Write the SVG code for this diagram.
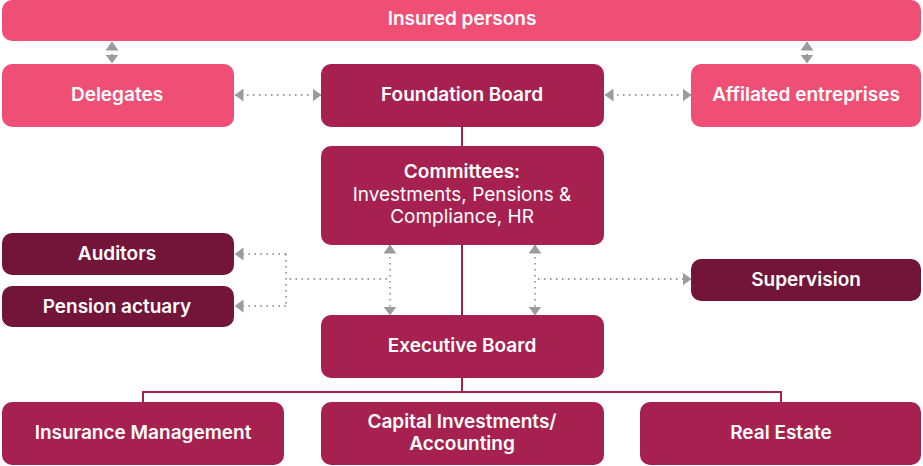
<svg xmlns="http://www.w3.org/2000/svg" width="923" height="466" viewBox="0 0 923 466">
  <style>
    .pink { fill: #F04F75; }
    .plum { fill: #A62150; }
    .wine { fill: #721538; }
    .lbl { font-family: Inter, "Noto Sans", "Liberation Sans", sans-serif; font-size: 19px; font-weight: 600; fill: #ffffff; text-anchor: middle; }
    .reg { font-weight: 400; }
    .tree { fill: none; stroke: #A62150; stroke-width: 2; }
    .dot { fill: none; stroke: #9B9B9E; stroke-width: 1.8; stroke-dasharray: 1.5 4.5; }
  </style>
  <defs>
    <marker id="tip" viewBox="0 0 9 13" refX="8.5" refY="6.5" markerWidth="9" markerHeight="13" markerUnits="userSpaceOnUse" orient="auto-start-reverse">
      <path d="M0,0 L9,6.5 L0,13 Z" fill="#9B9B9E"/>
    </marker>
  </defs>

  <!-- solid reporting lines -->
  <g id="connectors">
    <path class="tree" d="M462,127 V146 M462,245 V315 M462,378 V392 M143,392 H781 M143,391 V402 M781,391 V402"/>
    <!-- dotted information flows -->
    <path class="dot" d="M112,42 V63" marker-start="url(#tip)" marker-end="url(#tip)"/>
    <path class="dot" d="M807,42 V63" marker-start="url(#tip)" marker-end="url(#tip)"/>
    <path class="dot" d="M235,95 H321" marker-start="url(#tip)" marker-end="url(#tip)"/>
    <path class="dot" d="M605,95 H691" marker-start="url(#tip)" marker-end="url(#tip)"/>
    <path class="dot" d="M390,245 V315" marker-start="url(#tip)" marker-end="url(#tip)"/>
    <path class="dot" d="M535,245 V315" marker-start="url(#tip)" marker-end="url(#tip)"/>
    <path class="dot" d="M387,279 H288"/>
    <path class="dot" d="M286,254 V306"/>
    <path class="dot" d="M286,254 H235" marker-end="url(#tip)"/>
    <path class="dot" d="M286,306 H235" marker-end="url(#tip)"/>
    <path class="dot" d="M538,279 H691" marker-end="url(#tip)"/>
  </g>

  <g id="insured-persons">
    <rect class="pink" x="2" y="0" width="919" height="41" rx="10"/>
    <text class="lbl" x="462" y="25">Insured persons</text>
  </g>
  <g id="delegates">
    <rect class="pink" x="2" y="64" width="232" height="63" rx="10"/>
    <text class="lbl" x="117" y="101">Delegates</text>
  </g>
  <g id="foundation-board">
    <rect class="plum" x="321" y="64" width="283" height="63" rx="10"/>
    <text class="lbl" x="462" y="101">Foundation Board</text>
  </g>
  <g id="affiliated-entreprises">
    <rect class="pink" x="691" y="64" width="230" height="63" rx="10"/>
    <text class="lbl" x="806" y="101">Affilated entreprises</text>
  </g>
  <g id="committees">
    <rect class="plum" x="321" y="146" width="283" height="99" rx="10"/>
    <text class="lbl" x="462" y="178">Committees:</text>
    <text class="lbl reg" x="462" y="201">Investments, Pensions &amp;</text>
    <text class="lbl reg" x="462" y="223">Compliance, HR</text>
  </g>
  <g id="auditors">
    <rect class="wine" x="2" y="233" width="232" height="42" rx="10"/>
    <text class="lbl" x="117" y="260">Auditors</text>
  </g>
  <g id="pension-actuary">
    <rect class="wine" x="2" y="286" width="232" height="41" rx="10"/>
    <text class="lbl" x="117" y="313">Pension actuary</text>
  </g>
  <g id="supervision">
    <rect class="wine" x="691" y="259" width="230" height="42" rx="10"/>
    <text class="lbl" x="806" y="286">Supervision</text>
  </g>
  <g id="executive-board">
    <rect class="plum" x="321" y="315" width="283" height="63" rx="10"/>
    <text class="lbl" x="462" y="352">Executive Board</text>
  </g>
  <g id="insurance-management">
    <rect class="plum" x="2" y="402" width="282" height="63" rx="10"/>
    <text class="lbl" x="143" y="439">Insurance Management</text>
  </g>
  <g id="capital-investments">
    <rect class="plum" x="321" y="402" width="283" height="63" rx="10"/>
    <text class="lbl" x="462" y="428">Capital Investments/</text>
    <text class="lbl" x="462" y="450">Accounting</text>
  </g>
  <g id="real-estate">
    <rect class="plum" x="640" y="402" width="281" height="63" rx="10"/>
    <text class="lbl" x="781" y="439">Real Estate</text>
  </g>
</svg>
